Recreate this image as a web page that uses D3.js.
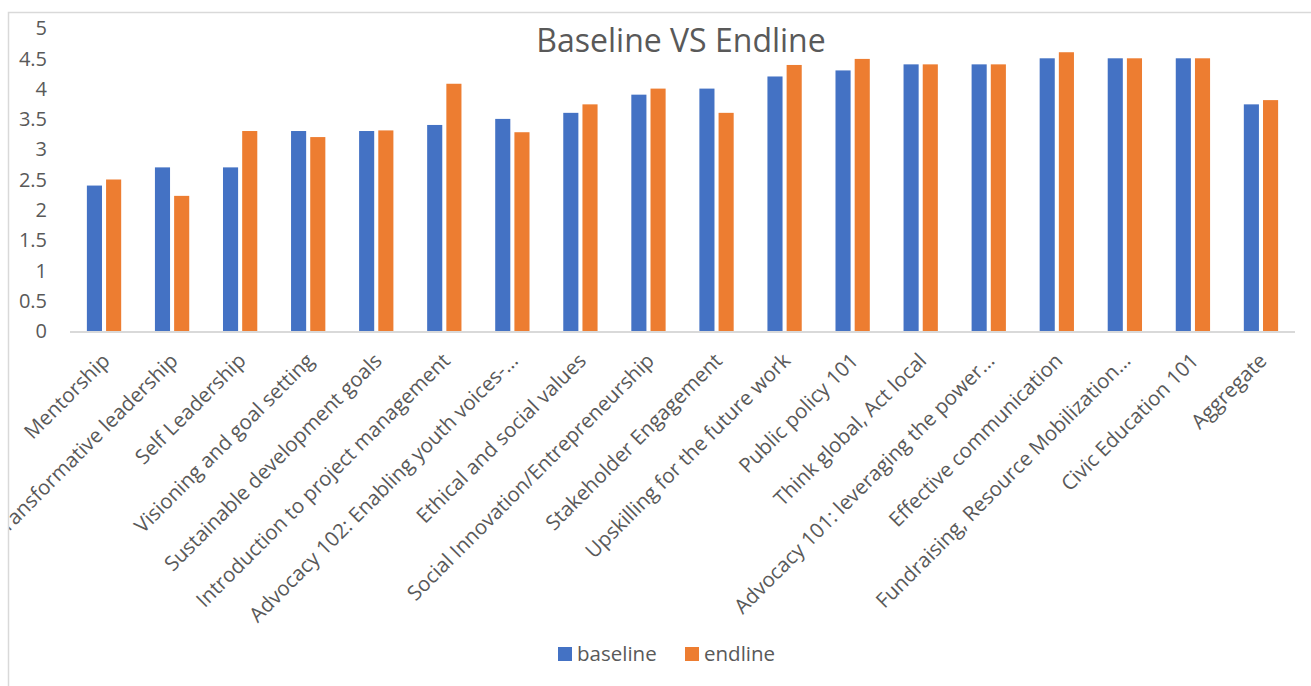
<!DOCTYPE html>
<html>
<head>
<meta charset="utf-8">
<script src="https://cdn.jsdelivr.net/npm/d3@7"></script>
<style>
  body { margin: 0; background: #fff; }
  text { font-family: "Open Sans", "Noto Sans", sans-serif; fill: #595959; }
</style>
</head>
<body>
<div class="graph"></div>
<script>
// categories and values
var categories = [
  "Mentorship", "Transformative leadership", "Self Leadership", "Visioning and goal setting",
  "Sustainable development goals", "Introduction to project management",
  "Advocacy 102: Enabling youth voices-...", "Ethical and social values",
  "Social Innovation/Entrepreneurship", "Stakeholder Engagement",
  "Upskilling for the future work", "Public policy 101", "Think global, Act local",
  "Advocacy 101: leveraging the power...", "Effective communication",
  "Fundraising, Resource Mobilization...", "Civic Education 101", "Aggregate"
];
var baseline = [2.4, 2.7, 2.7, 3.3, 3.3, 3.4, 3.5, 3.6, 3.9, 4.0, 4.2, 4.3, 4.4, 4.4, 4.5, 4.5, 4.5, 3.74];
var endline  = [2.5, 2.23, 3.3, 3.2, 3.31, 4.08, 3.28, 3.74, 4.0, 3.6, 4.39, 4.49, 4.4, 4.4, 4.6, 4.5, 4.5, 3.81];
var yTicks = [0, 0.5, 1, 1.5, 2, 2.5, 3, 3.5, 4, 4.5, 5];
var seriesNames = ["baseline", "endline"];
var colors = ["#4472c4", "#ed7d31"];

(function () {
  var W = 1311, H = 686;
  var plotLeft = 70, plotRight = 1295, plotTop = 28, plotBottom = 331;

  var svg = d3.select(".graph").append("svg").attr("width", W).attr("height", H);

  // clip everything to the chart frame, like the cropped chart in the picture
  svg.append("clipPath").attr("id", "frame")
    .append("rect").attr("x", 9).attr("y", 12).attr("width", W).attr("height", H);
  var g = svg.append("g").attr("clip-path", "url(#frame)");

  // chart frame (cut off on the right and bottom)
  svg.append("path").attr("d", "M8.5," + H + "V12.5H" + W)
    .attr("fill", "none").attr("stroke", "#d9d9d9").attr("stroke-width", 1.5);

  var x = d3.scaleBand().domain(categories).range([plotLeft, plotRight]);
  var y = d3.scaleLinear().domain([0, 5]).range([plotBottom, plotTop]);

  var bw = x.bandwidth() * 0.222, gap = x.bandwidth() * 0.06;

  // y labels
  g.append("g").selectAll("text").data(yTicks).enter().append("text")
    .attr("x", 47).attr("y", function (d) { return y(d); }).attr("dy", "0.36em")
    .attr("text-anchor", "end").style("font-size", "20px")
    .text(function (d) { return d; });

  // bars
  [baseline, endline].forEach(function (vals, s) {
    g.append("g").selectAll("rect").data(vals).enter().append("rect")
      .attr("x", function (d, i) {
        var c = x(categories[i]) + x.bandwidth() / 2;
        return s === 0 ? c - gap / 2 - bw : c + gap / 2;
      })
      .attr("y", function (d) { return y(d); })
      .attr("width", bw)
      .attr("height", function (d) { return y(0) - y(d); })
      .attr("fill", colors[s]);
  });

  // x axis line
  g.append("line").attr("x1", plotLeft).attr("x2", plotRight)
    .attr("y1", plotBottom + 1).attr("y2", plotBottom + 1)
    .attr("stroke", "#d9d9d9").attr("stroke-width", 2);

  // category labels, rotated
  g.append("g").selectAll("text").data(categories).enter().append("text")
    .attr("transform", function (d) {
      return "translate(" + (x(d) + x.bandwidth() / 2 + 7) + "," + (plotBottom + 31) + ") rotate(-45)";
    })
    .attr("text-anchor", "end").style("font-size", "20.5px")
    .text(function (d) { return d; });

  // title
  g.append("text").attr("x", 681).attr("y", 52).attr("text-anchor", "middle")
    .style("font-size", "32px").text("Baseline VS Endline");

  // legend
  var lx = [558, 685];
  seriesNames.forEach(function (n, i) {
    g.append("rect").attr("x", lx[i]).attr("y", 647).attr("width", 14).attr("height", 14).attr("fill", colors[i]);
    g.append("text").attr("x", lx[i] + 19).attr("y", 661).style("font-size", "20.5px").text(n);
  });
})();
</script>
</body>
</html>
